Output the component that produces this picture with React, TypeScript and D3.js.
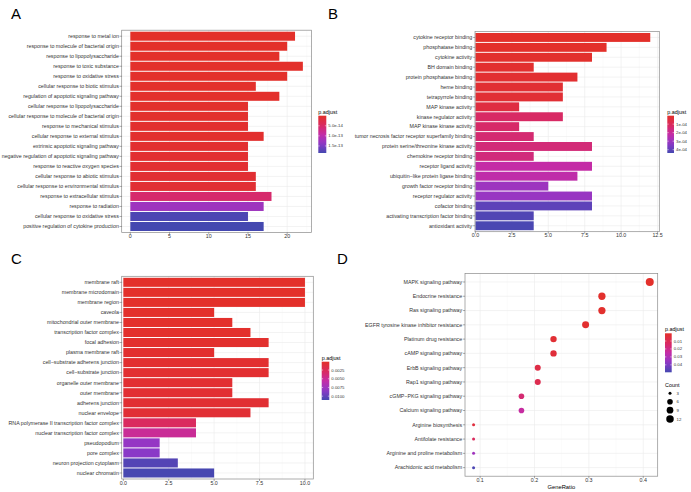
import React from 'react';
import * as d3 from 'd3';

const FONT = "'Liberation Sans', Arial, Helvetica, sans-serif";

// ── A: GO biological process ────────────────────────────────────────────────
const bpTerms = [
  'response to metal ion',
  'response to molecule of bacterial origin',
  'response to lipopolysaccharide',
  'response to toxic substance',
  'response to oxidative stress',
  'cellular response to biotic stimulus',
  'regulation of apoptotic signaling pathway',
  'cellular response to lipopolysaccharide',
  'cellular response to molecule of bacterial origin',
  'response to mechanical stimulus',
  'cellular response to external stimulus',
  'extrinsic apoptotic signaling pathway',
  'negative regulation of apoptotic signaling pathway',
  'response to reactive oxygen species',
  'cellular response to abiotic stimulus',
  'cellular response to environmental stimulus',
  'response to extracellular stimulus',
  'response to radiation',
  'cellular response to oxidative stress',
  'positive regulation of cytokine production',
];
const bpCount = [21, 20, 19, 22, 20, 16, 19, 15, 15, 15, 17, 15, 15, 15, 16, 16, 18, 17, 15, 17];
const bpPadj = [
  1e-16, 2e-16, 5e-16, 1e-15, 1e-15, 2e-15, 2e-15, 3e-15, 3e-15, 4e-15,
  4e-15, 5e-15, 6e-15, 7e-15, 8e-15, 9e-15, 5.5e-14, 1.25e-13, 1.8e-13, 1.85e-13,
];
const bpTicks = [0, 5, 10, 15, 20];
const bpLegendTicks = [5e-14, 1e-13, 1.5e-13];
const bpLegendLabels = ['5.0e-14', '1.0e-13', '1.5e-13'];

// ── B: GO molecular function ────────────────────────────────────────────────
const mfTerms = [
  'cytokine receptor binding',
  'phosphatase binding',
  'cytokine activity',
  'BH domain binding',
  'protein phosphatase binding',
  'heme binding',
  'tetrapyrrole binding',
  'MAP kinase activity',
  'kinase regulator activity',
  'MAP kinase kinase activity',
  'tumor necrosis factor receptor superfamily binding',
  'protein serine/threonine kinase activity',
  'chemokine receptor binding',
  'receptor ligand activity',
  'ubiquitin\u2212like protein ligase binding',
  'growth factor receptor binding',
  'receptor regulator activity',
  'cofactor binding',
  'activating transcription factor binding',
  'antioxidant activity',
];
const mfCount = [12, 9, 8, 4, 7, 6, 6, 3, 6, 3, 4, 8, 4, 8, 7, 5, 8, 8, 4, 4];
const mfPadj = [
  2e-6, 4e-6, 8e-6, 1.2e-5, 1.6e-5, 2e-5, 2.4e-5, 5e-5, 1.2e-4, 1.25e-4,
  1.4e-4, 1.5e-4, 1.55e-4, 2.2e-4, 2.3e-4, 3.0e-4, 3.1e-4, 4.0e-4, 4.2e-4, 4.3e-4,
];
const mfTicks = [0, 2.5, 5, 7.5, 10, 12.5];
const mfLegendTicks = [1e-4, 2e-4, 3e-4, 4e-4];
const mfLegendLabels = ['1e-04', '2e-04', '3e-04', '4e-04'];

// ── C: GO cellular component ────────────────────────────────────────────────
const ccTerms = [
  'membrane raft',
  'membrane microdomain',
  'membrane region',
  'caveola',
  'mitochondrial outer membrane',
  'transcription factor complex',
  'focal adhesion',
  'plasma membrane raft',
  'cell\u2212substrate adherens junction',
  'cell\u2212substrate junction',
  'organelle outer membrane',
  'outer membrane',
  'adherens junction',
  'nuclear envelope',
  'RNA polymerase II transcription factor complex',
  'nuclear transcription factor complex',
  'pseudopodium',
  'pore complex',
  'neuron projection cytoplasm',
  'nuclear chromatin',
];
const ccCount = [10, 10, 10, 5, 6, 7, 8, 5, 8, 8, 6, 6, 8, 7, 4, 4, 2, 2, 3, 5];
const ccPadj = [
  1e-4, 1e-4, 1.2e-4, 1.5e-4, 2e-4, 2.5e-4, 3e-4, 3.5e-4, 4e-4, 4.5e-4,
  5e-4, 5.5e-4, 6e-4, 7e-4, 2.9e-3, 5.0e-3, 8.0e-3, 8.5e-3, 1.05e-2, 1.1e-2,
];
const ccTicks = [0, 2.5, 5, 7.5, 10];
const ccLegendTicks = [0.0025, 0.005, 0.0075, 0.01];
const ccLegendLabels = ['0.0025', '0.0050', '0.0075', '0.0100'];

// ── D: KEGG dot plot ────────────────────────────────────────────────────────
const keggTerms = [
  'MAPK signaling pathway',
  'Endocrine resistance',
  'Ras signaling pathway',
  'EGFR tyrosine kinase inhibitor resistance',
  'Platinum drug resistance',
  'cAMP signaling pathway',
  'ErbB signaling pathway',
  'Rap1 signaling pathway',
  'cGMP\u2212PKG signaling pathway',
  'Calcium signaling pathway',
  'Arginine biosynthesis',
  'Antifolate resistance',
  'Arginine and proline metabolism',
  'Arachidonic acid metabolism',
];
const keggCount = [14, 11, 11, 10, 8, 8, 7, 7, 6, 6, 3, 3, 3, 3];
const keggRatio = [0.412, 0.324, 0.324, 0.294, 0.235, 0.235, 0.206, 0.206, 0.176, 0.176, 0.088, 0.088, 0.088, 0.088];
const keggPadj = [0.0005, 0.001, 0.0012, 0.0015, 0.003, 0.004, 0.007, 0.009, 0.016, 0.024, 0.005, 0.012, 0.033, 0.048];
const keggTicks = [0.1, 0.2, 0.3, 0.4];
const keggLegendTicks = [0.01, 0.02, 0.03, 0.04];
const keggLegendLabels = ['0.01', '0.02', '0.03', '0.04'];
const countLegend = [3, 6, 9, 12];

// red (low p) → blue (high p)
const ramp = d3.scaleLinear<string>()
  .domain([0, 0.25, 0.5, 0.75, 1])
  .range(['#E3302A', '#DA2A5E', '#C42CA6', '#8E38C8', '#4448B0'])
  .interpolate(d3.interpolateRgb)
  .clamp(true);

const GRID = '#ebebeb';
const GRID_MINOR = '#f4f4f4';
const BORDER = '#8a8a8a';
const TXT = '#333333';
const LABEL_SIZE = 5.3;

type Box = { left: number; right: number; top: number; bottom: number };
type LegendPos = { x: number; top: number; bottom: number; w: number };

function minorBreaks(ticks: number[], domain: number[]) {
  const step = ticks[1] - ticks[0];
  const out: number[] = [];
  for (let v = ticks[0] - step / 2; v <= domain[1]; v += step) {
    if (v >= domain[0]) out.push(v);
  }
  return out;
}

function ColorLegend({ id, pos, domain, ticks, labels }: {
  id: string; pos: LegendPos; domain: number[]; ticks: number[]; labels: string[];
}) {
  const y = d3.scaleLinear().domain(domain).range([pos.top, pos.bottom]);
  return (
    <g fontFamily={FONT}>
      <defs>
        <linearGradient id={id} x1="0" y1="0" x2="0" y2="1">
          {d3.range(0, 1.0001, 0.1).map(t => (
            <stop key={t} offset={t} stopColor={ramp(t)} />
          ))}
        </linearGradient>
      </defs>
      <text x={pos.x} y={pos.top - 2.2} fontSize={5.4} fill="#000">p.adjust</text>
      <rect x={pos.x} y={pos.top} width={pos.w} height={pos.bottom - pos.top} fill={`url(#${id})`} />
      {ticks.map((t, i) => (
        <g key={i}>
          <line x1={pos.x} x2={pos.x + 1.4} y1={y(t)} y2={y(t)} stroke="#fff" strokeWidth={0.5} />
          <line x1={pos.x + pos.w - 1.4} x2={pos.x + pos.w} y1={y(t)} y2={y(t)} stroke="#fff" strokeWidth={0.5} />
          <text x={pos.x + pos.w + 2} y={y(t)} dy="0.35em" fontSize={4.3} fill={TXT}>{labels[i]}</text>
        </g>
      ))}
    </g>
  );
}

function BarPanel(props: {
  id: string; terms: string[]; counts: number[]; padj: number[]; box: Box;
  xDomain: number[]; xTicks: number[]; fmt: (v: number) => string;
  pDomain: number[]; legend: LegendPos; legendTicks: number[]; legendLabels: string[];
}) {
  const { id, terms, counts, padj, box, xDomain, xTicks, fmt, pDomain, legend, legendTicks, legendLabels } = props;
  const x = d3.scaleLinear().domain(xDomain).range([box.left, box.right]);
  const y = d3.scalePoint<string>().domain(terms).range([box.top, box.bottom]).padding(0.6);
  const bh = y.step() * 0.9;
  const pt = d3.scaleLinear().domain(pDomain).range([0, 1]);
  const minors = minorBreaks(xTicks, xDomain);
  return (
    <g fontFamily={FONT}>
      <rect x={box.left} y={box.top} width={box.right - box.left} height={box.bottom - box.top} fill="#fff" />
      {minors.map(v => (
        <line key={`m${v}`} x1={x(v)} x2={x(v)} y1={box.top} y2={box.bottom} stroke={GRID_MINOR} strokeWidth={0.4} />
      ))}
      {xTicks.map(v => (
        <line key={`g${v}`} x1={x(v)} x2={x(v)} y1={box.top} y2={box.bottom} stroke={GRID} strokeWidth={0.6} />
      ))}
      {terms.map(t => (
        <line key={`h${t}`} x1={box.left} x2={box.right} y1={y(t)} y2={y(t)} stroke={GRID} strokeWidth={0.6} />
      ))}
      {terms.map((t, i) => (
        <rect key={`b${t}`} x={x(0)} y={(y(t) as number) - bh / 2} width={x(counts[i]) - x(0)} height={bh}
          fill={ramp(pt(padj[i]))} />
      ))}
      <rect x={box.left} y={box.top} width={box.right - box.left} height={box.bottom - box.top}
        fill="none" stroke={BORDER} strokeWidth={0.7} />
      {terms.map(t => (
        <g key={`l${t}`}>
          <line x1={box.left - 2.2} x2={box.left} y1={y(t)} y2={y(t)} stroke={TXT} strokeWidth={0.4} />
          <text x={box.left - 2.8} y={y(t)} dy="0.35em" textAnchor="end" fontSize={LABEL_SIZE} fill={TXT}>{t}</text>
        </g>
      ))}
      {xTicks.map(v => (
        <g key={`x${v}`}>
          <line x1={x(v)} x2={x(v)} y1={box.bottom} y2={box.bottom + 2} stroke={TXT} strokeWidth={0.4} />
          <text x={x(v)} y={box.bottom + 5.6} textAnchor="middle" fontSize={LABEL_SIZE} fill={TXT}>{fmt(v)}</text>
        </g>
      ))}
      <ColorLegend id={id} pos={legend} domain={pDomain} ticks={legendTicks} labels={legendLabels} />
    </g>
  );
}

function sizeOf(c: number) {
  // enrichplot style size range 3–8, scaled to pixels
  return 0.5 * (3 + 5 * Math.sqrt((c - 3) / 11));
}

function DotPanel() {
  const box: Box = { left: 465, right: 657.7, top: 273.4, bottom: 476.2 };
  const xDomain = [0.0722, 0.4266];
  const pDomain = [0.0003, 0.0494];
  const x = d3.scaleLinear().domain(xDomain).range([box.left, box.right]);
  const y = d3.scalePoint<string>().domain(keggTerms).range([box.top, box.bottom]).padding(0.6);
  const pt = d3.scaleLinear().domain(pDomain).range([0, 1]);
  const minors = minorBreaks(keggTicks, xDomain);
  const legend: LegendPos = { x: 665, top: 333.3, bottom: 372.3, w: 6.7 };
  const countY = [393.3, 401.7, 410.2, 419];
  return (
    <g fontFamily={FONT}>
      {minors.map(v => (
        <line key={`m${v}`} x1={x(v)} x2={x(v)} y1={box.top} y2={box.bottom} stroke={GRID_MINOR} strokeWidth={0.4} />
      ))}
      {keggTicks.map(v => (
        <line key={`g${v}`} x1={x(v)} x2={x(v)} y1={box.top} y2={box.bottom} stroke={GRID} strokeWidth={0.6} />
      ))}
      {keggTerms.map(t => (
        <line key={`h${t}`} x1={box.left} x2={box.right} y1={y(t)} y2={y(t)} stroke={GRID} strokeWidth={0.6} />
      ))}
      {keggTerms.map((t, i) => (
        <circle key={`c${t}`} cx={x(keggRatio[i])} cy={y(t)} r={sizeOf(keggCount[i])} fill={ramp(pt(keggPadj[i]))} />
      ))}
      <rect x={box.left} y={box.top} width={box.right - box.left} height={box.bottom - box.top}
        fill="none" stroke={BORDER} strokeWidth={0.7} />
      {keggTerms.map(t => (
        <g key={`l${t}`}>
          <line x1={box.left - 2.2} x2={box.left} y1={y(t)} y2={y(t)} stroke={TXT} strokeWidth={0.4} />
          <text x={box.left - 2.8} y={y(t)} dy="0.35em" textAnchor="end" fontSize={LABEL_SIZE} fill={TXT}>{t}</text>
        </g>
      ))}
      {keggTicks.map(v => (
        <g key={`x${v}`}>
          <line x1={x(v)} x2={x(v)} y1={box.bottom} y2={box.bottom + 2} stroke={TXT} strokeWidth={0.4} />
          <text x={x(v)} y={box.bottom + 5.6} textAnchor="middle" fontSize={LABEL_SIZE} fill={TXT}>{d3.format('.1f')(v)}</text>
        </g>
      ))}
      <text x={(box.left + box.right) / 2} y={489} textAnchor="middle" fontSize={5.8} fill="#000">GeneRatio</text>
      <ColorLegend id="gradD" pos={legend} domain={pDomain} ticks={keggLegendTicks} labels={keggLegendLabels} />
      <text x={665} y={387} fontSize={5.4} fill="#000">Count</text>
      {countLegend.map((c, i) => (
        <g key={`cl${c}`}>
          <circle cx={670} cy={countY[i]} r={sizeOf(c)} fill="#000" />
          <text x={676.5} y={countY[i]} dy="0.35em" fontSize={4.3} fill={TXT}>{c}</text>
        </g>
      ))}
    </g>
  );
}

export default function App() {
  const f1 = d3.format('.1f');
  const f0 = d3.format('d');
  return (
    <svg width={691} height={492} style={{ position: 'absolute', left: 0, top: 0, background: '#fff' }}>
      <rect width={691} height={492} fill="#fff" />
      <BarPanel id="gradA" terms={bpTerms} counts={bpCount} padj={bpPadj}
        box={{ left: 121.7, right: 311.5, top: 30.2, bottom: 232.5 }}
        xDomain={[-1.1, 23.1]} xTicks={bpTicks} fmt={f0}
        pDomain={[1e-16, 1.85e-13]} legend={{ x: 318.3, top: 115.7, bottom: 153, w: 8 }}
        legendTicks={bpLegendTicks} legendLabels={bpLegendLabels} />
      <BarPanel id="gradB" terms={mfTerms} counts={mfCount} padj={mfPadj}
        box={{ left: 475, right: 659.3, top: 31.5, bottom: 231.7 }}
        xDomain={[-0.03, 12.62]} xTicks={mfTicks} fmt={f1}
        pDomain={[1e-6, 4.39e-4]} legend={{ x: 667.3, top: 115.7, bottom: 153, w: 6.7 }}
        legendTicks={mfLegendTicks} legendLabels={mfLegendLabels} />
      <BarPanel id="gradC" terms={ccTerms} counts={ccCount} padj={ccPadj}
        box={{ left: 121.7, right: 313.3, top: 276.3, bottom: 479 }}
        xDomain={[-0.09, 10.46]} xTicks={ccTicks} fmt={f1}
        pDomain={[1e-4, 0.0111]} legend={{ x: 321.7, top: 361.7, bottom: 400, w: 7.6 }}
        legendTicks={ccLegendTicks} legendLabels={ccLegendLabels} />
      <DotPanel />
      <g fontFamily={FONT} fontSize={15} fill="#000">
        <text x={11} y={19}>A</text>
        <text x={328} y={19}>B</text>
        <text x={11} y={264}>C</text>
        <text x={337} y={264}>D</text>
      </g>
    </svg>
  );
}
